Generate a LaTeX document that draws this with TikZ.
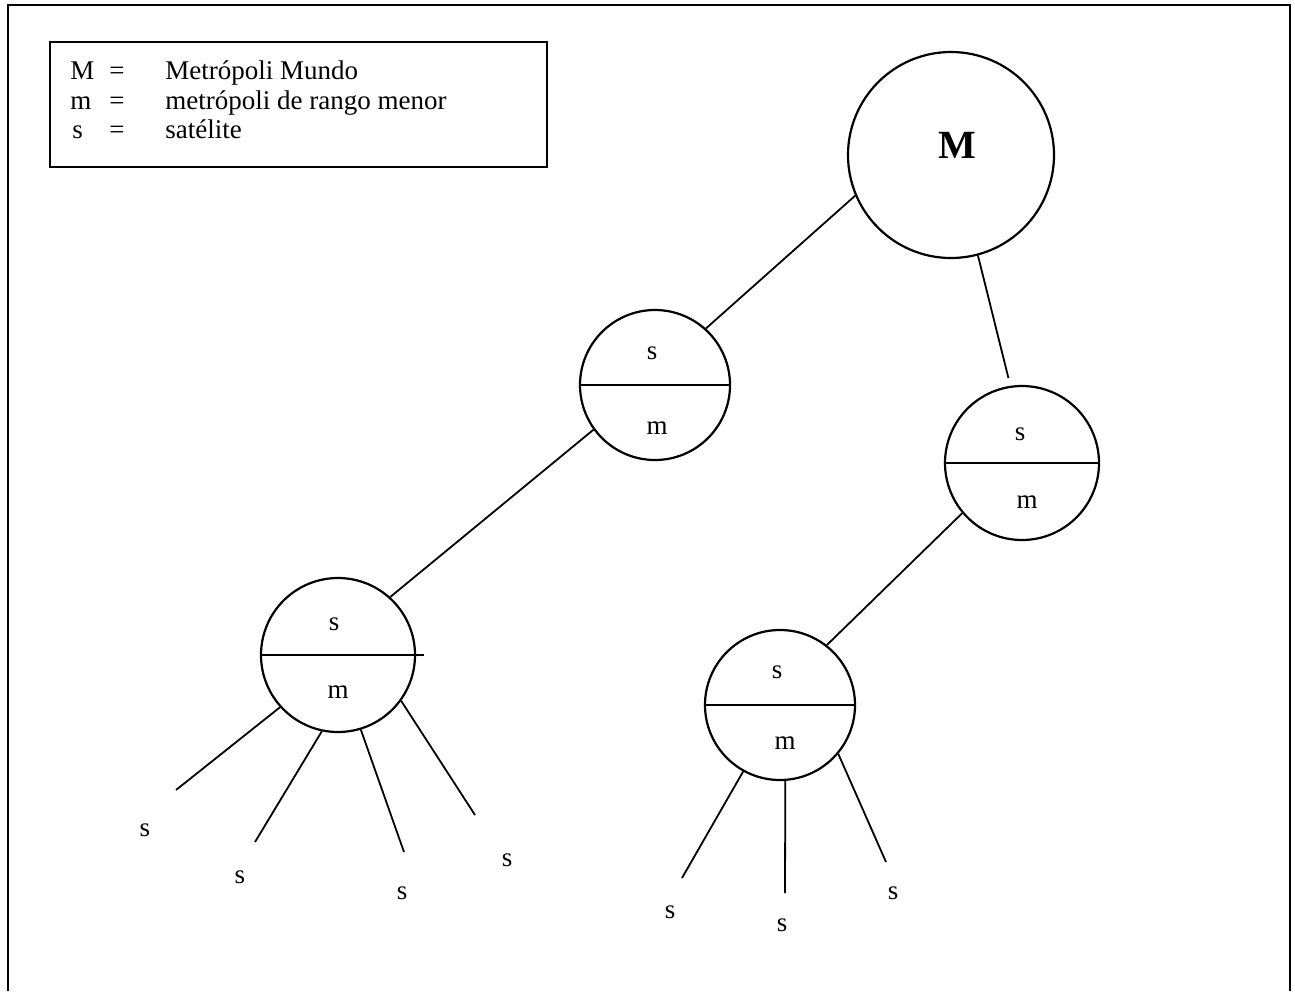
\documentclass[tikz,border=0pt]{standalone}
\usepackage{fontspec}
\setmainfont{Liberation Serif}
\tikzset{
  ciudad/.style={circle,draw,line width=1.1pt,minimum size=#1,inner sep=0pt},
  etiq/.style={font=\fontsize{13.5}{15}\selectfont,inner sep=0pt},
  rama/.style={line width=0.9pt}
}
\begin{document}
\begin{tikzpicture}[x=0.5pt,y=-0.5pt]
\useasboundingbox (0,0) rectangle (1295,991);
% marco
\draw[line width=1pt] (8,991) -- (8,5) -- (1290,5) -- (1290,991);
% leyenda
\draw[line width=1pt] (50,42) rectangle (547,167);
\node[etiq,anchor=base west] (lM) at (70,79) {M};
\node[etiq,anchor=base] (eM) at (117,79) {=};
\node[etiq,anchor=base west] (dM) at (165,79) {Metrópoli Mundo};
\node[etiq,anchor=base west] (lm) at (70,109) {m};
\node[etiq,anchor=base] (em) at (117,109) {=};
\node[etiq,anchor=base west] (dm) at (165,109) {metrópoli de rango menor};
\node[etiq,anchor=base west] (ls) at (72,138) {s};
\node[etiq,anchor=base] (es) at (117,138) {=};
\node[etiq,anchor=base west] (ds) at (165,138) {satélite};
% metropolis
\node[ciudad=103pt] (M) at (951,155) {};
\node[font=\fontsize{20}{24}\selectfont\bfseries] (tM) at (957,145) {M};
\node[ciudad=75pt] (A) at (655,385) {};
\node[ciudad=77pt] (B) at (1022,463) {};
\node[ciudad=77pt] (C) at (338,655) {};
\node[ciudad=75pt] (D) at (780,705) {};
% divisiones
\draw[line width=1.1pt] (A.west) -- (A.east);
\draw[line width=1.1pt] (B.west) -- (B.east);
\draw[line width=1.1pt] (C.west) -- ([xshift=4pt]C.east);
\draw[line width=1.1pt] (D.west) -- (D.east);
\node[etiq] (As) at (652,353) {s};
\node[etiq] (Am) at (657,428) {m};
\node[etiq] (Bs) at (1020,434) {s};
\node[etiq] (Bm) at (1027,502) {m};
\node[etiq] (Cs) at (334,624) {s};
\node[etiq] (Cm) at (338,692) {m};
\node[etiq] (Ds) at (777,672) {s};
\node[etiq] (Dm) at (785,743) {m};
% enlaces
\draw[rama] (M.203) -- (A.48);
\draw[rama] (M.285) -- ([yshift=4pt]B.100);
\draw[rama] (A.216) -- (C.48);
\draw[rama] (B.220) -- (D.52);
% satelites
\foreach \ang/\fx/\fy/\lx/\ly [count=\i] in
  {222/176/790/145/830, 258/255/842/240/877,
   287/404/852/402/893, 324/475/815/507/860}{
  \coordinate (c\i) at (\fx,\fy);
  \node[etiq] (cs\i) at (\lx,\ly) {s};
  \draw[rama] (C.\ang) -- (c\i);
}
\foreach \ang/\fx/\fy/\lx/\ly [count=\i] in
  {241/682/878/670/912, 274/785/893/782/925,
   320/886/862/893/893}{
  \coordinate (d\i) at (\fx,\fy);
  \node[etiq] (ds\i) at (\lx,\ly) {s};
  \draw[rama] (D.\ang) -- (d\i);
}
\end{tikzpicture}
\end{document}
